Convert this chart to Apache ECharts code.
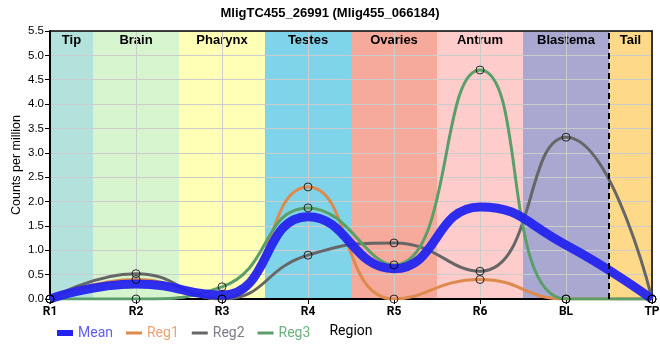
<!DOCTYPE html>
<html>
<head>
<meta charset="utf-8">
<script src="https://cdn.jsdelivr.net/npm/echarts@6/dist/echarts.min.js"></script>
<style>html,body{margin:0;padding:0;background:#fff}#c{width:660px;height:360px}</style>
</head>
<body>
<div id="c"></div>
<script>
const titleText = 'MligTC455_26991 (Mlig455_066184)';
const regions = ['R1', 'R2', 'R3', 'R4', 'R5', 'R6', 'BL', 'TP'];
const meanVals = [0, 0.31, 0.08, 1.69, 0.62, 1.89, 1.11, 0];
const reg1 = [0, 0.40, 0, 2.30, 0, 0.40, 0, 0];
const reg2 = [0, 0.52, 0, 0.90, 1.15, 0.57, 3.32, 0];
const reg3 = [0, 0, 0.25, 1.87, 0.70, 4.70, 0, 0];
const bandNames = ['Tip', 'Brain', 'Pharynx', 'Testes', 'Ovaries', 'Antrum', 'Blastema', 'Tail'];
const bandStart = [0, 0.5, 1.5, 2.5, 3.5, 4.5, 5.5, 6.5];
const bandEnd = [0.5, 1.5, 2.5, 3.5, 4.5, 5.5, 6.5, 7];
const tailBoundary = 6.5;
const yTicks = [0, 0.5, 1, 1.5, 2, 2.5, 3, 3.5, 4, 4.5, 5, 5.5];

const bandColors = ['#b3e2dd', '#d6f5cf', '#ffffb5', '#80d4ea', '#f5aa9c', '#ffcccc', '#a8a8d0', '#ffd98a'];
const colMean = '#2424ee', colR1 = '#dd8a4c', colR2 = '#666666', colR3 = '#5a9e6a';

const pts = arr => arr.map((v, i) => [i, v]);
const YMAX = yTicks[yTicks.length - 1];

const chart = echarts.init(document.getElementById('c'));
const lineSeries = (name, arr, color, width, z) => ({
  type: 'line', name, data: pts(arr), smooth: true, showSymbol: false, symbol: 'none',
  lineStyle: { color, width }, itemStyle: { color }, z, silent: true
});
const markerSeries = (arr) => ({
  type: 'scatter', data: pts(arr), symbol: 'circle', symbolSize: 8,
  itemStyle: { color: 'rgba(0,0,0,0)', borderColor: '#000', borderWidth: 1 }, z: 10, silent: true
});

chart.setOption({
  animation: false,
  title: { text: titleText, left: 'center', top: 2,
    textStyle: { fontFamily: 'Liberation Sans', fontSize: 13, fontWeight: 'bold', color: '#000' } },
  grid: { left: 50, right: 8, top: 31, bottom: 61, containLabel: false, outerBoundsMode: 'none' },
  legend: {
    left: 52, top: 321, itemWidth: 16, itemHeight: 6, itemGap: 13,
    textStyle: { fontFamily: 'Roboto', fontSize: 14 },
    data: [
      { name: 'Mean', icon: 'rect', itemStyle: { color: colMean }, textStyle: { color: '#5e5ef2' } },
      { name: 'Reg1', icon: 'path://M0,0H16V3H0Z', itemStyle: { color: colR1 }, textStyle: { color: '#eba373' } },
      { name: 'Reg2', icon: 'path://M0,0H16V3H0Z', itemStyle: { color: colR2 }, textStyle: { color: '#7c7c8c' } },
      { name: 'Reg3', icon: 'path://M0,0H16V3H0Z', itemStyle: { color: colR3 }, textStyle: { color: '#6cb07e' } }
    ]
  },
  xAxis: [{
    type: 'value', min: 0, max: regions.length - 1, interval: 1, z: 1,
    name: 'Region', nameLocation: 'middle', nameGap: 25, nameMoveOverlap: false,
    nameTextStyle: { fontFamily: 'Roboto', fontSize: 14, color: '#000' },
    axisLine: { show: true, lineStyle: { color: '#000', width: 2 } },
    axisTick: { show: true, length: 5, lineStyle: { color: '#000' } },
    axisLabel: { formatter: v => regions[v] !== undefined ? regions[v] : '', fontFamily: 'Roboto', fontWeight: 'bold', fontSize: 12, color: '#000', margin: 7 },
    splitLine: { show: true, lineStyle: { color: '#cccccc', width: 1 } }
  }, {
    type: 'value', position: 'top', min: 0, max: regions.length - 1, z: 1,
    axisLine: { show: true, onZero: false, lineStyle: { color: '#000', width: 1.5 } },
    axisTick: { show: false }, axisLabel: { show: false }, splitLine: { show: false }
  }],
  yAxis: [{
    type: 'value', min: 0, max: YMAX, interval: 0.5, z: 1,
    name: 'Counts per million', nameLocation: 'middle', nameGap: 27, nameMoveOverlap: false,
    nameTextStyle: { fontFamily: 'Liberation Sans', fontSize: 12.5, color: '#000' },
    axisLine: { show: true, lineStyle: { color: '#000', width: 2 } },
    axisTick: { show: true, length: 5, lineStyle: { color: '#000' } },
    axisLabel: { formatter: v => v.toFixed(1), fontFamily: 'Liberation Sans', fontSize: 11.5, color: '#000', margin: 6 },
    splitLine: { show: true, lineStyle: { color: '#cccccc', width: 1 } }
  }, {
    type: 'value', position: 'right', min: 0, max: YMAX, z: 1,
    axisLine: { show: true, onZero: false, lineStyle: { color: '#000', width: 1.5 } },
    axisTick: { show: false }, axisLabel: { show: false }, splitLine: { show: false }
  }],
  series: [
    {
      type: 'custom', z: 0, silent: true,
      data: bandNames.map((n, i) => [bandStart[i], bandEnd[i], i]),
      renderItem: (params, api) => {
        const s = api.value(0), e = api.value(1), idx = api.value(2);
        const tl = api.coord([s, YMAX]);
        const br = api.coord([e, 0]);
        return {
          type: 'group',
          children: [
            { type: 'rect', shape: { x: tl[0], y: tl[1], width: br[0] - tl[0], height: br[1] - tl[1] },
              style: { fill: bandColors[idx] } },
            { type: 'text', x: (tl[0] + br[0]) / 2, y: tl[1] + 3, z2: 100,
              style: { text: bandNames[idx], align: 'center', verticalAlign: 'top',
                font: 'bold 13px "Liberation Sans"', fill: '#000' } }
          ]
        };
      },
      markLine: {
        silent: true, symbol: 'none', label: { show: false }, z: 6,
        lineStyle: { color: '#000', width: 2, type: [6, 4] },
        data: [{ xAxis: tailBoundary }]
      }
    },
    lineSeries('Reg1', reg1, colR1, 3, 3),
    lineSeries('Reg2', reg2, colR2, 3, 3),
    lineSeries('Reg3', reg3, colR3, 3, 3),
    Object.assign(lineSeries('Mean', meanVals, colMean, 9, 4), { lineStyle: { color: colMean, width: 9, opacity: 0.95 } }),
    markerSeries(reg1), markerSeries(reg2), markerSeries(reg3)
  ]
});
</script>
</body>
</html>
